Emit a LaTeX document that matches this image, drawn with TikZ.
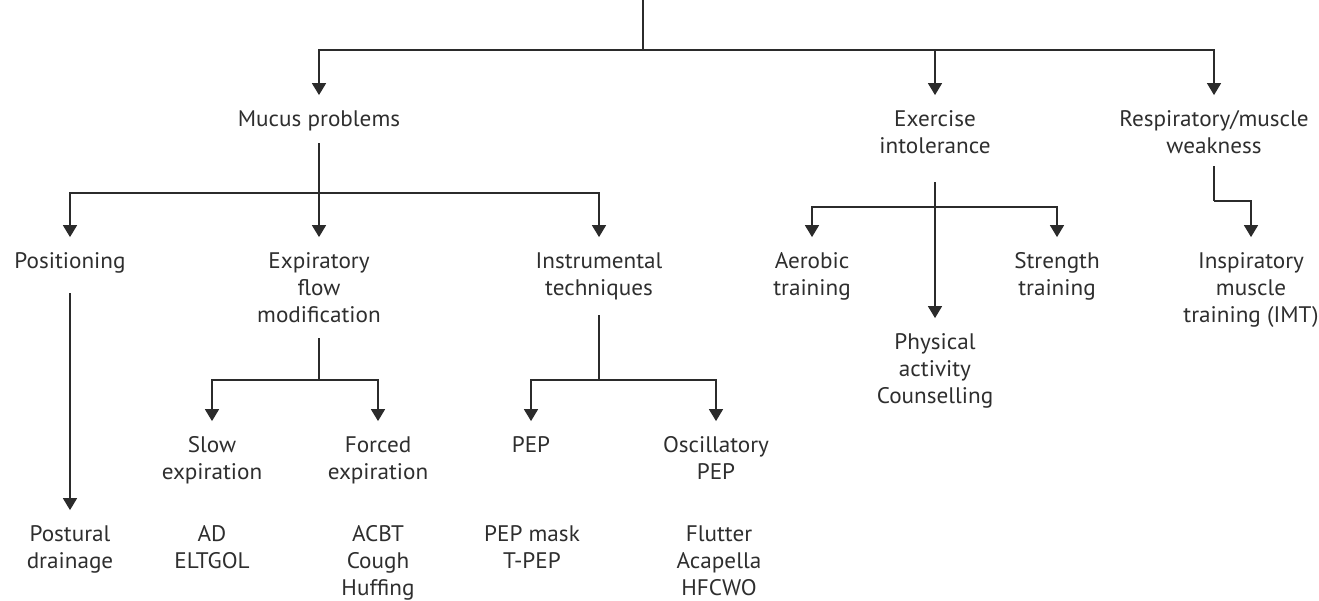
\documentclass[tikz,border=0pt]{standalone}
\usepackage{fontspec}
\setmainfont{PT Sans}[FakeStretch=1.03]
\usetikzlibrary{arrows.meta,calc}
\definecolor{linecol}{HTML}{2B2B2B}
\definecolor{textcol}{HTML}{2E2E2E}
\newcommand{\lbl}[1]{\begin{tabular}[t]{@{}c@{}}#1\end{tabular}}
\begin{document}
\begin{tikzpicture}[x=1pt,y=-1pt,
  lab/.style={anchor=base,inner sep=0pt,outer xsep=0pt,outer ysep=12pt,text=textcol,
    font=\fontsize{22.5}{27}\selectfont},
  conn/.style={draw=linecol,line width=1.6pt},
  arr/.style={conn,-{Triangle[width=14pt,length=12pt]}}]
\useasboundingbox (0,0) rectangle (1319,600);
% level 1
\node[lab] (mucus) at (319,126) {\lbl{Mucus problems}};
\node[lab] (ex) at (935,126) {\lbl{Exercise\\intolerance}};
\node[lab] (resp) at (1214,126) {\lbl{Respiratory/muscle\\weakness}};
% level 2
\node[lab] (pos) at (70,268) {\lbl{Positioning}};
\node[lab] (expf) at (319,268) {\lbl{Expiratory\\flow\\modification}};
\node[lab] (instr) at (599,268) {\lbl{Instrumental\\techniques}};
\node[lab] (aer) at (812,268) {\lbl{Aerobic\\training}};
\node[lab] (str) at (1057,268) {\lbl{Strength\\training}};
\node[lab] (insp) at (1251,268) {\lbl{Inspiratory\\muscle\\training (IMT)}};
\node[lab] (phys) at (935,349) {\lbl{Physical\\activity\\Counselling}};
% level 3
\node[lab] (slow) at (212,452) {\lbl{Slow\\expiration}};
\node[lab] (forced) at (378,452) {\lbl{Forced\\expiration}};
\node[lab] (pep) at (531,452) {\lbl{PEP}};
\node[lab] (osc) at (716,452) {\lbl{Oscillatory\\PEP}};
% level 4
\node[lab] (post) at (70,541) {\lbl{Postural\\drainage}};
\node[lab] (ad) at (212,541) {\lbl{AD\\ELTGOL}};
\node[lab] (acbt) at (378,541) {\lbl{ACBT\\Cough\\Huffing}};
\node[lab] (pepm) at (532,541) {\lbl{PEP mask\\T-PEP}};
\node[lab] (flut) at (719,541) {\lbl{Flutter\\Acapella\\HFCWO}};
% coordinates
\coordinate (top) at (643,0);
\coordinate (j0) at (643,50);
\coordinate (jm) at (319,193);
\coordinate (je) at (319,380);
\coordinate (ji) at (599,380);
\coordinate (jx) at (935,207);
\coordinate (jr) at (1214,201);
% connectors
\draw[conn] (top) -- (j0);
\draw[arr] (j0) -| (mucus.north);
\draw[arr] (j0) -| (ex.north);
\draw[arr] (j0) -| (resp.north);
\draw[arr] ([yshift=3pt]mucus.south) -- (expf.north);
\draw[arr] (jm) -| (pos.north);
\draw[arr] (jm) -| (instr.north);
\draw[arr] ([yshift=-5pt]pos.south) -- (post.north);
\draw[conn] ([yshift=4pt]expf.south) -- (je);
\draw[arr] (je) -| (slow.north);
\draw[arr] (je) -| (forced.north);
\draw[conn] (instr.south) -- (ji);
\draw[arr] (ji) -| (pep.north);
\draw[arr] (ji) -| (osc.north);
\draw[arr] ([yshift=-9pt]ex.south) -- (phys.north);
\draw[arr] (jx) -| (aer.north);
\draw[arr] (jx) -| (str.north);
\draw[conn] ([yshift=7pt]resp.south) -- (jr);
\draw[arr] (jr) -| (insp.north);
\end{tikzpicture}
\end{document}
